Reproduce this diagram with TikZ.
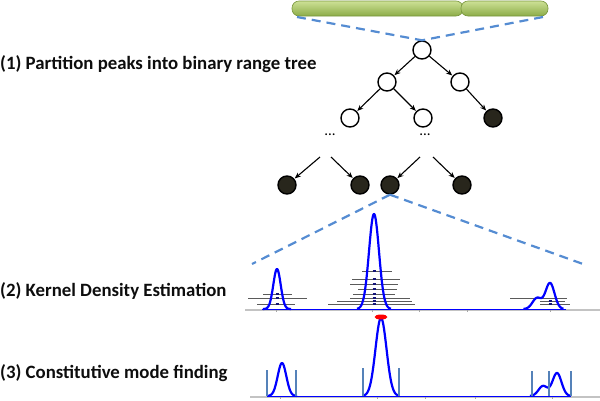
\documentclass[tikz,border=0pt]{standalone}
\usepackage{fontspec}
\setmainfont{Carlito}
\usetikzlibrary{arrows.meta,shapes.geometric}
\definecolor{dashblue}{RGB}{85,140,210}
\definecolor{nodeblack}{RGB}{40,38,28}
\definecolor{kde}{RGB}{0,0,255}
\definecolor{bargray}{RGB}{90,90,90}
\definecolor{vline}{RGB}{85,130,185}
\definecolor{axisgray}{RGB}{195,195,195}
\definecolor{markblue}{RGB}{20,20,120}
\definecolor{bartop}{RGB}{205,225,150}
\definecolor{barbot}{RGB}{140,172,72}
\definecolor{barline}{RGB}{120,150,60}
\tikzset{
  lbl/.style={font=\bfseries\fontsize{18.8}{22}\selectfont, text=black!95, anchor=west, inner sep=0pt},
  tnode/.style={circle, draw=black, line width=1.4pt, minimum size=18pt, inner sep=0pt, fill=white},
  bnode/.style={tnode, fill=nodeblack},
  edgearrow/.style={-{Stealth[length=6pt,width=5pt]}, line width=1.1pt, shorten >=0.5pt},
  zoomline/.style={draw=dashblue, line width=2.2pt, dash pattern=on 9pt off 6pt},
  barseg/.style={rectangle, rounded corners=7pt, draw=barline, line width=0.6pt, top color=bartop, bottom color=barbot, minimum height=15pt, inner sep=0pt},
  kdeline/.style={draw=kde, line width=2.2pt, line join=round},
  kdethin/.style={draw=kde, line width=1pt},
  axis/.style={draw=axisgray, line width=1.2pt},
  hbar/.style={draw=bargray, line width=1pt},
  hmark/.style={draw=markblue, line width=2pt},
  vbar/.style={draw=vline, line width=1.6pt},
  tick/.style={draw=gray!70, line width=0.5pt},
  dotsnode/.style={font=\fontsize{15}{18}\selectfont, inner sep=0pt}
}
\begin{document}
\begin{tikzpicture}[x=1pt,y=-1pt]
\useasboundingbox (0,0) rectangle (600,400);

% labels
\node[lbl] (l1) at (0,64) {(1) Partition peaks into binary range tree};
\node[lbl] (l2) at (0,291) {(2) Kernel Density Estimation};
\node[lbl] (l3) at (0,373) {(3) Constitutive mode finding};

% chromosome bar
\node[barseg, minimum width=171pt] (bar1) at (377.5,8.5) {};
\node[barseg, minimum width=87pt] (bar2) at (504.5,8.5) {};
\coordinate (bl) at (297,17);
\coordinate (br) at (543,17);

% tree
\node[tnode] (r) at (422,50) {};
\node[tnode] (a) at (387,82) {};
\node[tnode] (b) at (460,82) {};
\node[tnode] (c) at (350,118) {};
\node[tnode] (d) at (423,118) {};
\node[bnode] (e) at (493,118) {};
\node[dotsnode] (dots1) at (330,135) {...};
\node[dotsnode] (dots2) at (425,135) {...};
\coordinate (s1) at (320,157);
\coordinate (s2) at (331,157);
\coordinate (s3) at (420,157);
\coordinate (s4) at (433,157);
\node[bnode] (f) at (287,185) {};
\node[bnode] (g) at (360,185) {};
\node[bnode] (h) at (390,185) {};
\node[bnode] (i) at (462,185) {};

\draw[edgearrow] (r) -- (a);
\draw[edgearrow] (r) -- (b);
\draw[edgearrow] (a) -- (c);
\draw[edgearrow] (a) -- (d);
\draw[edgearrow] (b) -- (e);
\draw[edgearrow] (s1) -- (f);
\draw[edgearrow] (s2) -- (g);
\draw[edgearrow] (s3) -- (h);
\draw[edgearrow] (s4) -- (i);

\draw[zoomline] (bl) -- (r.north);
\draw[zoomline] (br) -- (r.north);

\coordinate (kl) at (252,264);
\coordinate (kr) at (583,264);
\draw[zoomline] (h.south) -- (kl);
\draw[zoomline] (h.south) -- (kr);

% ---------- panel 2: KDE ----------
\coordinate (ax2a) at (245,310);
\coordinate (ax2b) at (600,310);
\draw[axis] (ax2a) -- (ax2b);
\foreach \t in {276,372,419,467,550} \draw[tick] (\t,310) -- (\t,312);

% horizontal kernel bars
\foreach \yy/\xa/\xb in {294/263/292, 298/248/307, 304/257/295}
  {\draw[hbar] (\xa,\yy) -- (\xb,\yy);}
\foreach \yy/\xa/\xb in {271/362/392, 279/352/400, 284/350/398, 289/358/397, 294/353/395, 298/350/410, 301/337/412, 304/328/415}
  {\draw[hbar] (\xa,\yy) -- (\xb,\yy);}
\foreach \yy/\xa/\xb in {298/510/567, 301/540/565, 304/540/570}
  {\draw[hbar] (\xa,\yy) -- (\xb,\yy);}

\coordinate (k2a) at (262,309);
\coordinate (k2b) at (566,309);
\draw[kdethin] (k2a) -- (k2b);
\draw[kdeline] plot[domain=-14:14, samples=49] ({277+\x},{309-40*exp(-(\x*\x)/(2*3.7*3.7))});
\draw[kdeline] plot[domain=-17:17, samples=61] ({374+\x},{309-95*exp(-(\x*\x)/(2*5*5))});
\draw[kdeline] plot[domain=-20:20, samples=61] ({543.5+\x},{309-11*exp(-((\x+6.5)*(\x+6.5))/(2*4.5*4.5))-26*exp(-((\x-6.5)*(\x-6.5))/(2*4.5*4.5))});

\foreach \yy in {294,298,304} {\draw[hmark] (275.5,\yy) -- (278.5,\yy);}
\foreach \yy in {271,279,284,289,294,298,301,304} {\draw[hmark] (372.5,\yy) -- (375.5,\yy);}
\foreach \yy in {301,304} {\draw[hmark] (548.5,\yy) -- (551.5,\yy);}

% ---------- panel 3: mode finding ----------
\coordinate (ax3a) at (250,397);
\coordinate (ax3b) at (600,397);
\draw[axis] (ax3a) -- (ax3b);
\foreach \t in {280,377,425,475,552} \draw[tick] (\t,397) -- (\t,399);

\coordinate (k3a) at (267,396);
\coordinate (k3b) at (571,396);
\draw[kdethin] (k3a) -- (k3b);
\draw[kdeline] plot[domain=-15:15, samples=49] ({282+\x},{396-33*exp(-(\x*\x)/(2*4.3*4.3))});
\draw[kdeline] plot[domain=-18:18, samples=61] ({381+\x},{396-78*exp(-(\x*\x)/(2*5.5*5.5))});
\draw[kdeline] plot[domain=-20:20, samples=61] ({550+\x},{396-10*exp(-((\x+7)*(\x+7))/(2*4.5*4.5))-23*exp(-((\x-7)*(\x-7))/(2*4.5*4.5))});

\foreach \xx/\yt in {267/370, 296/370, 363/368, 399/368, 532/371, 549/371, 571/371}
  {\draw[vbar] (\xx,\yt) -- (\xx,396);}

\node[ellipse, fill=red, minimum width=13pt, minimum height=5pt, inner sep=0pt] (mode) at (381,317) {};
\end{tikzpicture}
\end{document}
